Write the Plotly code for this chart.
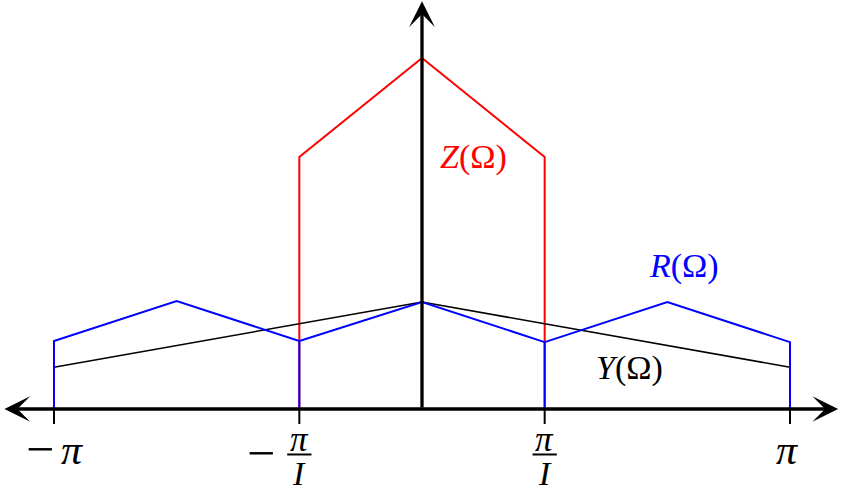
import plotly.graph_objects as go

# x in units of pi
tick_x = [-1, -1/3, 1/3, 1]
tick_num = ["<i>π</i>", "<i>π</i>", "<i>π</i>", "<i>π</i>"]
tick_den = [None, "<i>I</i>", "<i>I</i>", None]
tick_sign = ["−", "−", None, None]

Y_x = [-1, 0, 1]
Y_v = [0.39, 1.0, 0.39]

R_x = [-1, -1, -2/3, -1/3, -1/3, -1/3, 0, 1/3, 1/3, 1/3, 2/3, 1, 1]
R_v = [0, 0.635, 1.01, 0.635, 0, 0.635, 1.0, 0.625, 0, 0.625, 1.0, 0.625, 0]

Z_x = [-1/3, -1/3, 0, 1/3, 1/3]
Z_v = [0, 2.355, 3.28, 2.355, 0]

labels = [("<i>Z</i>(Ω)", 0.141, 2.355, "#ff0000"),
          ("<i>R</i>(Ω)", 0.712, 1.336, "#0000ff"),
          ("<i>Y</i>(Ω)", 0.5625, 0.383, "#000000")]

XR = [-1.1467, 1.1467]
YR = [-0.7196, 3.8224]
FONT = "Liberation Serif"

fig = go.Figure()
fig.add_trace(go.Scatter(x=Z_x, y=Z_v, mode="lines", line=dict(color="#ff0000", width=2), hoverinfo="skip"))
fig.add_trace(go.Scatter(x=Y_x, y=Y_v, mode="lines", line=dict(color="#000000", width=1.6), hoverinfo="skip"))
fig.add_trace(go.Scatter(x=R_x, y=R_v, mode="lines", line=dict(color="#0000ff", width=2), hoverinfo="skip"))

# tick marks
tx, ty = [], []
for t in tick_x:
    tx += [t, t, None]
    ty += [0, -0.14, None]
fig.add_trace(go.Scatter(x=tx, y=ty, mode="lines", line=dict(color="black", width=2), hoverinfo="skip"))

anns = []
# x axis double arrow
anns.append(dict(x=XR[1] - 0.016, y=0, ax=XR[0] + 0.008, ay=0, xref="x", yref="y", axref="x", ayref="y",
                 showarrow=True, arrowhead=3, startarrowhead=3, arrowside="end+start",
                 arrowsize=1.3, startarrowsize=1.3, arrowwidth=3.3, arrowcolor="black", text=""))
# y axis arrow
anns.append(dict(x=0, y=YR[1] - 0.012, ax=0, ay=0, xref="x", yref="y", axref="x", ayref="y",
                 showarrow=True, arrowhead=3, arrowsize=1.3, arrowwidth=3.3, arrowcolor="black", text=""))

shapes = []
for t, num, den, sign in zip(tick_x, tick_num, tick_den, tick_sign):
    if den is None:
        off = 0.049 if sign else -0.008
        anns.append(dict(x=t + off, y=-0.38, text=num, showarrow=False, xref="x", yref="y",
                         font=dict(family=FONT, size=42, color="black")))
        if sign:
            anns.append(dict(x=t - 0.038, y=-0.37, text=sign, showarrow=False, xref="x", yref="y",
                             font=dict(family=FONT, size=50, color="black")))
    else:
        anns.append(dict(x=t, y=-0.285, text=num, showarrow=False, xref="x", yref="y",
                         font=dict(family=FONT, size=35, color="black")))
        anns.append(dict(x=t, y=-0.6, text=den, showarrow=False, xref="x", yref="y",
                         font=dict(family=FONT, size=34, color="black")))
        shapes.append(dict(type="line", x0=t - 0.033, x1=t + 0.033, y0=-0.425, y1=-0.425,
                           xref="x", yref="y", line=dict(color="black", width=2)))
        if sign:
            anns.append(dict(x=t - 0.103, y=-0.415, text=sign, showarrow=False, xref="x", yref="y",
                             font=dict(family=FONT, size=50, color="black")))

for txt, lx, ly, col in labels:
    anns.append(dict(x=lx, y=ly, text=txt, showarrow=False, xref="x", yref="y",
                     font=dict(family=FONT, size=34, color=col)))

fig.update_layout(
    width=844, height=486,
    margin=dict(l=0, r=0, t=0, b=0),
    paper_bgcolor="white", plot_bgcolor="white",
    showlegend=False,
    xaxis=dict(range=XR, visible=False, fixedrange=True),
    yaxis=dict(range=YR, visible=False, fixedrange=True),
    annotations=anns, shapes=shapes,
)
fig.write_html("out.html", config={"displayModeBar": False},
               post_script="document.body.style.margin='0';document.body.style.overflow='hidden';")
